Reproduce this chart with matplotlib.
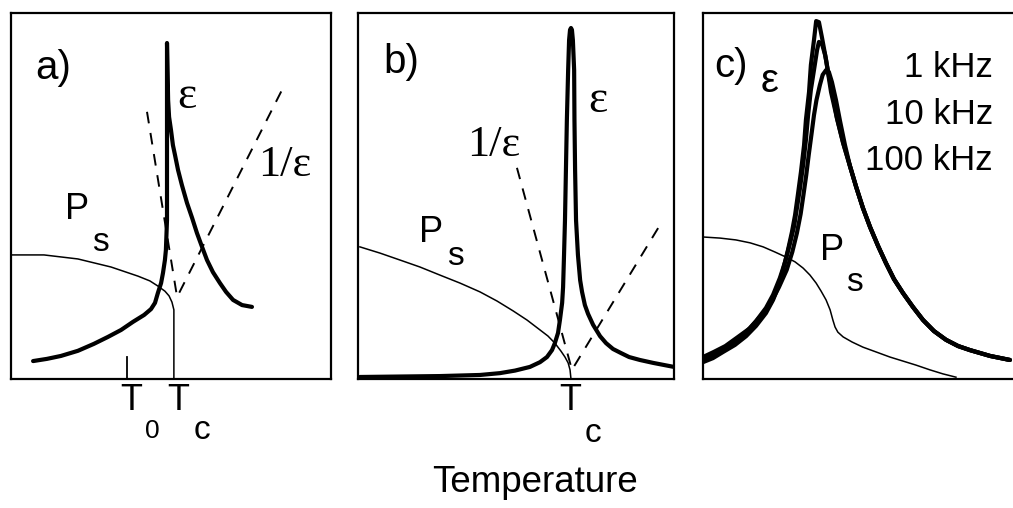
import numpy as np
import matplotlib
matplotlib.use('Agg')
import matplotlib.pyplot as plt

# schematic curves, arbitrary units (0..100 in each panel)

# panel a) first order transition
a_eps_x = [6.9, 11.25, 15.6, 20.9, 25.9, 30.3, 34.4, 38.1, 41.6, 43.75, 45.0, 45.9, 46.9, 47.5,
           48.1, 48.4, 48.75, 48.75,
           49.1, 49.4, 50.0, 50.6, 51.25, 52.2, 53.4, 55.0, 56.6, 58.1, 59.7, 61.25, 63.1,
           65.3, 67.2, 69.4, 72.2, 75.3]
a_eps_y = [4.9, 5.5, 6.3, 7.7, 9.6, 11.5, 13.4, 15.6, 17.5, 19.1, 20.8, 23.5, 26.2, 29.0,
           32.5, 35.2, 43.4, 91.8,
           76.2, 71.6, 68.0, 63.9, 61.2, 57.1, 53.0, 48.1, 44.0, 39.9, 36.1, 32.5, 29.2,
           26.2, 23.8, 21.6, 20.2, 19.7]
a_ps_x = [0, 10.3, 20.9, 31.25, 39.7, 43.4, 45.9, 48.1, 49.4, 50.3, 50.9, 50.9, 50.9]
a_ps_y = [33.9, 33.9, 32.8, 30.6, 28.1, 26.8, 25.4, 24.0, 22.7, 21.0, 18.9, 16.1, 0]
a_inv_x = [42.5, 51.9, 84.7]
a_inv_y = [73.0, 22.4, 79.0]
a_t0 = 36.25
a_t0_tick = 6.0

# panel b) second order transition
b_eps_x = [0.6, 25.9, 38.6, 44.9, 49.7, 54.4, 57.6, 59.8, 61.4, 62.3, 63.3, 63.9, 64.6, 64.9,
           65.2, 65.5, 65.8, 66.1, 66.5, 66.8, 67.1, 67.4, 67.7, 68.0, 68.4, 68.5, 68.7,
           69.0, 69.6, 70.3, 70.9, 71.8, 72.8, 74.4, 76.6, 78.5, 80.7, 83.2, 85.8, 89.2,
           93.4, 100]
b_eps_y = [0.55, 0.8, 1.1, 1.6, 2.3, 3.3, 4.6, 6.0, 7.9, 9.8, 12.6, 16.1, 20.8, 25.1,
           33.9, 43.4, 57.1, 70.8, 84.4, 92.6, 95.4, 95.9, 95.4, 92.6, 84.4, 70.8, 57.1,
           43.4, 33.9, 27.0, 23.8, 20.2, 17.8, 14.8, 11.7, 9.8, 8.2, 7.1, 6.0, 5.2,
           4.4, 3.3]
b_ps_x = [0.6, 6.96, 13.3, 19.6, 25.9, 32.3, 38.6, 44.0, 49.1, 53.5, 57.6, 60.1, 62.3,
          64.2, 65.5, 66.5, 67.1, 67.4]
b_ps_y = [36.1, 34.4, 32.5, 30.6, 28.4, 26.2, 23.8, 21.3, 18.6, 16.1, 13.4, 11.75, 9.8,
          7.65, 6.0, 4.4, 2.5, 0]
b_inv_x = [50.3, 67.7, 96.5]
b_inv_y = [57.7, 2.5, 43.4]

# panel c) relaxor, three frequencies
c_1k_x = [0, 3.2, 6.5, 10.3, 13.9, 17.1, 20.3, 22.6, 24.2, 25.8, 27.4, 28.7, 29.7, 30.6,
          31.6, 32.6, 33.2, 34.2, 34.8, 35.8, 36.5, 37.4, 38.4, 39.7, 40.6,
          41.3, 43.2, 45.2, 47.4, 49.4, 51.6, 53.9, 56.5, 59.0, 61.6, 64.5, 67.7, 71.0,
          74.5, 78.4, 82.3, 86.1, 92.6, 99.0]
c_1k_y = [4.6, 5.7, 7.4, 9.3, 11.7, 14.5, 18.0, 21.6, 25.1, 29.8, 35.2, 40.2, 44.8, 50.3,
          56.6, 63.9, 70.8, 78.4, 85.8, 92.6, 97.8, 97.5, 93.2, 87.2, 82.2,
          78.4, 71.3, 64.5, 58.2, 52.5, 46.7, 41.5, 36.3, 31.7, 27.3, 23.5, 19.7, 16.1,
          13.1, 10.7, 9.0, 7.9, 6.3, 5.2]
c_10k_x = [0, 3.2, 6.5, 10.3, 13.9, 17.1, 20.3, 22.6, 24.8, 26.5, 28.1, 29.4, 30.3, 31.3,
           32.3, 33.2, 33.9, 34.8, 35.8, 36.8, 37.4, 38.4, 39.4, 40.6, 41.9,
           43.2, 45.2, 47.4, 49.4, 51.6, 53.9, 56.5, 59.0, 61.6, 64.5, 67.7, 71.0,
           74.5, 78.4, 82.3, 86.1, 92.6, 99.0]
c_10k_y = [5.2, 6.6, 8.2, 10.4, 12.8, 15.8, 19.4, 23.0, 27.6, 32.0, 37.2, 41.8, 46.7, 52.2,
           58.5, 65.3, 72.1, 79.0, 84.4, 89.9, 92.1, 91.5, 88.5, 82.8, 77.6,
           71.3, 64.5, 58.2, 52.5, 46.7, 41.5, 36.3, 31.7, 27.3, 23.5, 19.7, 16.1,
           13.1, 10.7, 9.0, 7.9, 6.3, 5.2]
c_100k_x = [0, 3.5, 7.2, 11.3, 15.2, 18.6, 21.9, 24.5, 27.0, 28.8, 30.3, 31.5, 32.4, 33.3,
            34.1, 35.0, 35.8, 36.6, 37.7, 38.6, 39.7, 40.6, 41.6, 42.9, 44.2, 45.8, 47.4,
            49.4, 51.6, 53.9, 56.5, 59.0, 61.6, 64.5, 67.7, 71.0,
            74.5, 78.4, 82.3, 86.1, 92.6, 99.0]
c_100k_y = [6.0, 7.4, 9.0, 11.5, 13.9, 17.2, 20.8, 25.1, 29.8, 34.7, 39.9, 45.1, 50.3, 55.7,
            61.2, 66.9, 72.1, 76.2, 80.3, 83.1, 84.4, 83.9, 81.1, 76.2, 70.5, 63.9, 58.2,
            52.5, 46.7, 41.5, 36.3, 31.7, 27.3, 23.5, 19.7, 16.1,
            13.1, 10.7, 9.0, 7.9, 6.3, 5.2]
c_ps_x = [0, 5.5, 10.6, 15.2, 19.4, 23.2, 26.8, 29.7, 32.3, 34.5, 36.5, 38.1, 39.7, 41.0,
          41.9, 42.6, 43.5, 45.2, 48.1, 51.6, 55.8, 60.3, 64.5, 68.7, 73.2, 77.4, 81.6]
c_ps_y = [38.8, 38.5, 38.0, 37.2, 36.1, 34.7, 33.3, 32.0, 30.3, 28.4, 26.2, 24.0, 21.6, 18.9,
          16.1, 14.2, 12.8, 11.5, 10.1, 8.7, 7.4, 6.0, 4.9, 3.8, 2.5, 1.4, 0.5]
freq_labels = ['1 kHz', '10 kHz', '100 kHz']

sans = 'Liberation Sans'
serif = 'Liberation Serif'
thick = 3.0
thin = 1.1

fig = plt.figure(figsize=(10.13, 5.08), dpi=100)
ax_a = fig.add_axes([11/1013, 129/508, 320/1013, 366/508])
ax_b = fig.add_axes([358/1013, 129/508, 316/1013, 366/508])
ax_c = fig.add_axes([703/1013, 129/508, 310/1013, 366/508])

for ax in [ax_a, ax_b, ax_c]:
    ax.set_xlim(0, 100)
    ax.set_ylim(0, 100)
    ax.set_xticks([])
    ax.set_yticks([])
    for s in ax.spines.values():
        s.set_linewidth(1.6)
ax_c.spines['right'].set_visible(False)

# ---- a)
ax_a.plot(a_eps_x, a_eps_y, color='k', lw=thick, solid_joinstyle='round', solid_capstyle='round')
ax_a.plot(a_ps_x, a_ps_y, color='k', lw=thin)
ax_a.plot(a_inv_x, a_inv_y, color='k', lw=1.4, dashes=(6, 5))
ax_a.plot([a_t0, a_t0], [0, a_t0_tick], color='k', lw=1.3)
ax_a.text(7.5, 85, 'a)', fontsize=29, family=sans, ha='left', va='center')
ax_a.text(55.0, 77.0, 'ε', fontsize=33, family=serif, ha='center', va='center')
ax_a.text(85.6, 58.5, '1/ε', fontsize=32, family=serif, ha='center', va='center')
ax_a.text(20.6, 46.2, 'P', fontsize=26, family=sans, ha='center', va='center')
ax_a.text(28.1, 37.4, 's', fontsize=24, family=sans, ha='center', va='center')
ax_a.text(37.5, -5.9, 'T', fontsize=26, family=sans, ha='center', va='center', clip_on=False)
ax_a.text(44.1, -14.2, '0', fontsize=19, family=sans, ha='center', va='center', clip_on=False)
ax_a.text(52.2, -5.9, 'T', fontsize=26, family=sans, ha='center', va='center', clip_on=False)
ax_a.text(59.7, -14.2, 'c', fontsize=24, family=sans, ha='center', va='center', clip_on=False)

# ---- b)
ax_b.plot(b_eps_x, b_eps_y, color='k', lw=thick, solid_joinstyle='round', solid_capstyle='round')
ax_b.plot(b_ps_x, b_ps_y, color='k', lw=thin)
ax_b.plot(b_inv_x, b_inv_y, color='k', lw=1.4, dashes=(6, 5))
ax_b.text(7.9, 86.6, 'b)', fontsize=29, family=sans, ha='left', va='center')
ax_b.text(75.9, 76.0, 'ε', fontsize=33, family=serif, ha='center', va='center')
ax_b.text(43.0, 64.0, '1/ε', fontsize=32, family=serif, ha='center', va='center')
ax_b.text(23.1, 39.9, 'P', fontsize=26, family=sans, ha='center', va='center')
ax_b.text(30.7, 33.6, 's', fontsize=24, family=sans, ha='center', va='center')
ax_b.text(67.1, -5.9, 'T', fontsize=26, family=sans, ha='center', va='center', clip_on=False)
ax_b.text(74.4, -15.0, 'c', fontsize=24, family=sans, ha='center', va='center', clip_on=False)

# ---- c)
for cx, cy in [(c_1k_x, c_1k_y), (c_10k_x, c_10k_y), (c_100k_x, c_100k_y)]:
    ax_c.plot(cx, cy, color='k', lw=thick, solid_joinstyle='round', solid_capstyle='round')
ax_c.plot(c_ps_x, c_ps_y, color='k', lw=thin)
ax_c.text(3.5, 85.5, 'c)', fontsize=29, family=sans, ha='left', va='center')
ax_c.text(21.5, 81.5, 'ε', fontsize=29, family=sans, ha='center', va='center')
for i, lab in enumerate(freq_labels):
    ax_c.text(93.5, 85.0 - 12.6*i, lab, fontsize=25, family=sans, ha='right', va='center')
ax_c.text(41.5, 35.0, 'P', fontsize=26, family=sans, ha='center', va='center')
ax_c.text(49.0, 26.5, 's', fontsize=24, family=sans, ha='center', va='center')

fig.text(535/1013, 1 - 483/508, 'Temperature', fontsize=26.5, family=sans, ha='center', va='center')

fig.savefig('out.png', dpi=100)
